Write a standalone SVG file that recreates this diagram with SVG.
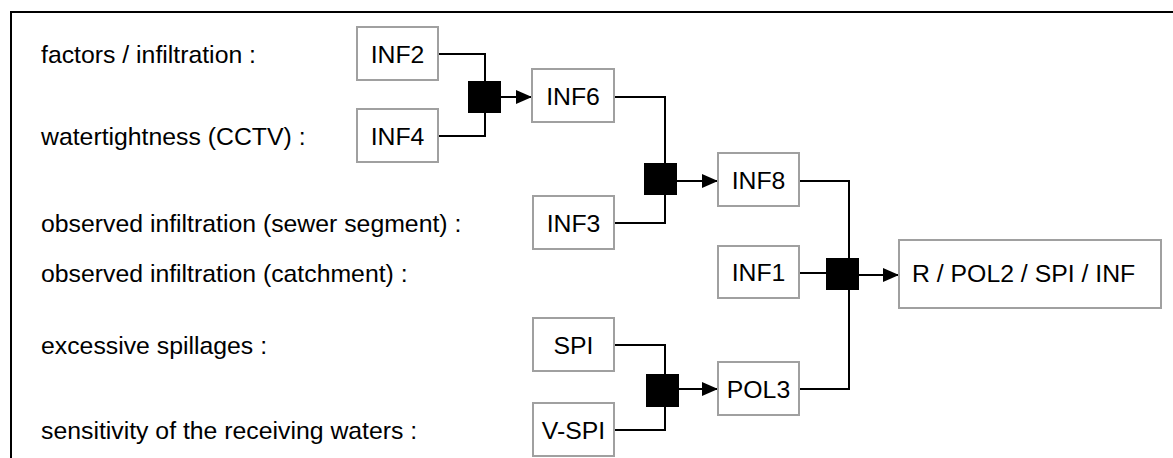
<svg xmlns="http://www.w3.org/2000/svg" width="1173" height="458" viewBox="0 0 1173 458">
<defs>
<style>
.lbl{font-family:"Liberation Sans",Arial,sans-serif;font-size:24.8px;fill:#000}
.bt{font-family:"Liberation Sans",Arial,sans-serif;font-size:24.8px;fill:#000;text-anchor:middle}
.box{fill:#fff;stroke:#a0a0a0;stroke-width:2}
.wire{fill:none;stroke:#000;stroke-width:2}
.jn{fill:#000}
</style>
<marker id="ah" markerWidth="16" markerHeight="14" refX="16" refY="7" orient="auto" markerUnits="userSpaceOnUse">
<path d="M0,0 L16,7 L0,14 Z" fill="#000"/>
</marker>
</defs>
<rect width="1173" height="458" fill="#fff"/>
<path d="M11,458 V12 H1173" fill="none" stroke="#000" stroke-width="2"/>
<g id="labels">
<text class="lbl" x="41" y="63">factors / infiltration :</text>
<text class="lbl" x="41" y="145">watertightness (CCTV) :</text>
<text class="lbl" x="41" y="232">observed infiltration (sewer segment) :</text>
<text class="lbl" x="41" y="282">observed infiltration (catchment) :</text>
<text class="lbl" x="41" y="354">excessive spillages :</text>
<text class="lbl" x="41" y="439">sensitivity of the receiving waters :</text>
</g>
<g id="connectors">
<path class="wire" d="M438,54 H485 V81"/>
<path class="wire" d="M438,136 H485 V113"/>
<path class="wire" d="M614,97 H665 V163"/>
<path class="wire" d="M614,223 H665 V195"/>
<path class="wire" d="M799,181 H849 V258"/>
<path class="wire" d="M799,273 H826"/>
<path class="wire" d="M799,389 H849 V290"/>
<path class="wire" d="M614,345 H665 V374"/>
<path class="wire" d="M614,430 H665 V407"/>
<path class="wire" d="M501,97 H532" marker-end="url(#ah)"/>
<path class="wire" d="M677,181 H718" marker-end="url(#ah)"/>
<path class="wire" d="M859,275 H899" marker-end="url(#ah)"/>
<path class="wire" d="M679,389 H718" marker-end="url(#ah)"/>
</g>
<g id="J1"><rect class="jn" x="468" y="81" width="33" height="32"/></g>
<g id="J2"><rect class="jn" x="644" y="163" width="33" height="32"/></g>
<g id="J3"><rect class="jn" x="826" y="258" width="33" height="32"/></g>
<g id="J4"><rect class="jn" x="646" y="374" width="33" height="33"/></g>
<g id="INF2"><rect class="box" x="357" y="27" width="81" height="53"/><text class="bt" x="397.5" y="62.5">INF2</text></g>
<g id="INF4"><rect class="box" x="357" y="109" width="81" height="53"/><text class="bt" x="397.5" y="144.5">INF4</text></g>
<g id="INF6"><rect class="box" x="532" y="69" width="82" height="53"/><text class="bt" x="573" y="104.5">INF6</text></g>
<g id="INF3"><rect class="box" x="533" y="196" width="81" height="53"/><text class="bt" x="573.5" y="231.5">INF3</text></g>
<g id="INF8"><rect class="box" x="718" y="153" width="81" height="53"/><text class="bt" x="758.5" y="189">INF8</text></g>
<g id="INF1"><rect class="box" x="718" y="246" width="81" height="52"/><text class="bt" x="758.5" y="281">INF1</text></g>
<g id="SPI"><rect class="box" x="533" y="318" width="81" height="53"/><text class="bt" x="573.5" y="353.5">SPI</text></g>
<g id="V-SPI"><rect class="box" x="533" y="403" width="81" height="53"/><text class="bt" x="573.5" y="438.5">V-SPI</text></g>
<g id="POL3"><rect class="box" x="718" y="362" width="81" height="53"/><text class="bt" x="758.5" y="397.5">POL3</text></g>
<g id="R"><rect class="box" x="899" y="240" width="262" height="68"/><text class="lbl" x="912" y="282">R / POL2 / SPI / INF</text></g>
</svg>
